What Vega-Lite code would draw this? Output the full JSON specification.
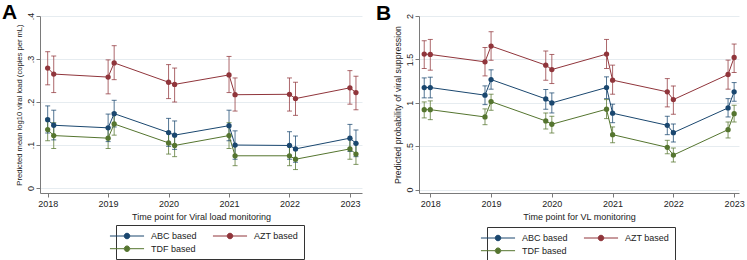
{
  "$schema": "https://vega.github.io/schema/vega-lite/v6.json",
  "padding": {"left": 2, "top": 1, "right": 0, "bottom": 0},
  "background": "white",
  "bounds": "flush",
  "spacing": 57,
  "config": {
    "view": {"stroke": null},
    "font": "Liberation Sans",
    "axis": {
      "labelFont": "Liberation Sans",
      "titleFont": "Liberation Sans",
      "labelFontSize": 9,
      "titleFontSize": 9,
      "titleFontWeight": "normal",
      "labelColor": "#222222",
      "titleColor": "#222222",
      "domainColor": "#7a7a7a",
      "tickColor": "#7a7a7a",
      "tickSize": 4,
      "labelFlush": false,
      "labelOverlap": false
    },
    "legend": {
      "labelFont": "Liberation Sans",
      "labelFontSize": 9,
      "labelColor": "#222222"
    }
  },
  "datasets": {
    "vl": [
      {"g": "ABC based", "t": 2018.0, "m": 0.159, "lo": 0.128, "hi": 0.191},
      {"g": "ABC based", "t": 2018.1, "m": 0.146, "lo": 0.112, "hi": 0.181},
      {"g": "ABC based", "t": 2019.0, "m": 0.140, "lo": 0.108, "hi": 0.172},
      {"g": "ABC based", "t": 2019.1, "m": 0.173, "lo": 0.142, "hi": 0.204},
      {"g": "ABC based", "t": 2020.0, "m": 0.129, "lo": 0.097, "hi": 0.162},
      {"g": "ABC based", "t": 2020.1, "m": 0.123, "lo": 0.090, "hi": 0.156},
      {"g": "ABC based", "t": 2021.0, "m": 0.145, "lo": 0.110, "hi": 0.181},
      {"g": "ABC based", "t": 2021.1, "m": 0.100, "lo": 0.067, "hi": 0.133},
      {"g": "ABC based", "t": 2022.0, "m": 0.099, "lo": 0.067, "hi": 0.131},
      {"g": "ABC based", "t": 2022.1, "m": 0.091, "lo": 0.060, "hi": 0.121},
      {"g": "ABC based", "t": 2023.0, "m": 0.116, "lo": 0.085, "hi": 0.148},
      {"g": "ABC based", "t": 2023.1, "m": 0.104, "lo": 0.073, "hi": 0.135},
      {"g": "AZT based", "t": 2018.0, "m": 0.279, "lo": 0.240, "hi": 0.317},
      {"g": "AZT based", "t": 2018.1, "m": 0.265, "lo": 0.222, "hi": 0.307},
      {"g": "AZT based", "t": 2019.0, "m": 0.258, "lo": 0.219, "hi": 0.298},
      {"g": "AZT based", "t": 2019.1, "m": 0.291, "lo": 0.252, "hi": 0.331},
      {"g": "AZT based", "t": 2020.0, "m": 0.246, "lo": 0.208, "hi": 0.287},
      {"g": "AZT based", "t": 2020.1, "m": 0.241, "lo": 0.200, "hi": 0.279},
      {"g": "AZT based", "t": 2021.0, "m": 0.263, "lo": 0.222, "hi": 0.306},
      {"g": "AZT based", "t": 2021.1, "m": 0.217, "lo": 0.179, "hi": 0.256},
      {"g": "AZT based", "t": 2022.0, "m": 0.218, "lo": 0.179, "hi": 0.256},
      {"g": "AZT based", "t": 2022.1, "m": 0.208, "lo": 0.169, "hi": 0.246},
      {"g": "AZT based", "t": 2023.0, "m": 0.233, "lo": 0.195, "hi": 0.273},
      {"g": "AZT based", "t": 2023.1, "m": 0.222, "lo": 0.182, "hi": 0.260},
      {"g": "TDF based", "t": 2018.0, "m": 0.136, "lo": 0.110, "hi": 0.162},
      {"g": "TDF based", "t": 2018.1, "m": 0.122, "lo": 0.092, "hi": 0.152},
      {"g": "TDF based", "t": 2019.0, "m": 0.116, "lo": 0.092, "hi": 0.140},
      {"g": "TDF based", "t": 2019.1, "m": 0.149, "lo": 0.123, "hi": 0.175},
      {"g": "TDF based", "t": 2020.0, "m": 0.105, "lo": 0.079, "hi": 0.131},
      {"g": "TDF based", "t": 2020.1, "m": 0.099, "lo": 0.073, "hi": 0.125},
      {"g": "TDF based", "t": 2021.0, "m": 0.122, "lo": 0.092, "hi": 0.152},
      {"g": "TDF based", "t": 2021.1, "m": 0.075, "lo": 0.052, "hi": 0.098},
      {"g": "TDF based", "t": 2022.0, "m": 0.075, "lo": 0.052, "hi": 0.098},
      {"g": "TDF based", "t": 2022.1, "m": 0.067, "lo": 0.043, "hi": 0.091},
      {"g": "TDF based", "t": 2023.0, "m": 0.091, "lo": 0.067, "hi": 0.115},
      {"g": "TDF based", "t": 2023.1, "m": 0.079, "lo": 0.055, "hi": 0.103}
    ],
    "vs": [
      {"g": "ABC based", "t": 2017.9, "m": 1.176, "lo": 1.057, "hi": 1.287},
      {"g": "ABC based", "t": 2018.0, "m": 1.176, "lo": 1.057, "hi": 1.295},
      {"g": "ABC based", "t": 2018.9, "m": 1.088, "lo": 0.979, "hi": 1.195},
      {"g": "ABC based", "t": 2019.0, "m": 1.268, "lo": 1.157, "hi": 1.380},
      {"g": "ABC based", "t": 2019.9, "m": 1.045, "lo": 0.926, "hi": 1.152},
      {"g": "ABC based", "t": 2020.0, "m": 0.999, "lo": 0.883, "hi": 1.114},
      {"g": "ABC based", "t": 2020.9, "m": 1.176, "lo": 1.048, "hi": 1.299},
      {"g": "ABC based", "t": 2021.0, "m": 0.880, "lo": 0.771, "hi": 0.984},
      {"g": "ABC based", "t": 2021.9, "m": 0.741, "lo": 0.633, "hi": 0.845},
      {"g": "ABC based", "t": 2022.0, "m": 0.656, "lo": 0.548, "hi": 0.756},
      {"g": "ABC based", "t": 2022.9, "m": 0.941, "lo": 0.837, "hi": 1.048},
      {"g": "ABC based", "t": 2023.0, "m": 1.126, "lo": 1.018, "hi": 1.233},
      {"g": "AZT based", "t": 2017.9, "m": 1.561, "lo": 1.395, "hi": 1.715},
      {"g": "AZT based", "t": 2018.0, "m": 1.557, "lo": 1.376, "hi": 1.730},
      {"g": "AZT based", "t": 2018.9, "m": 1.472, "lo": 1.310, "hi": 1.637},
      {"g": "AZT based", "t": 2019.0, "m": 1.654, "lo": 1.490, "hi": 1.819},
      {"g": "AZT based", "t": 2019.9, "m": 1.434, "lo": 1.261, "hi": 1.596},
      {"g": "AZT based", "t": 2020.0, "m": 1.383, "lo": 1.222, "hi": 1.557},
      {"g": "AZT based", "t": 2020.9, "m": 1.561, "lo": 1.395, "hi": 1.730},
      {"g": "AZT based", "t": 2021.0, "m": 1.261, "lo": 1.099, "hi": 1.434},
      {"g": "AZT based", "t": 2021.9, "m": 1.126, "lo": 0.953, "hi": 1.279},
      {"g": "AZT based", "t": 2022.0, "m": 1.037, "lo": 0.868, "hi": 1.195},
      {"g": "AZT based", "t": 2022.9, "m": 1.326, "lo": 1.157, "hi": 1.492},
      {"g": "AZT based", "t": 2023.0, "m": 1.522, "lo": 1.349, "hi": 1.677},
      {"g": "TDF based", "t": 2017.9, "m": 0.921, "lo": 0.826, "hi": 1.010},
      {"g": "TDF based", "t": 2018.0, "m": 0.921, "lo": 0.806, "hi": 1.022},
      {"g": "TDF based", "t": 2018.9, "m": 0.837, "lo": 0.748, "hi": 0.930},
      {"g": "TDF based", "t": 2019.0, "m": 1.014, "lo": 0.914, "hi": 1.099},
      {"g": "TDF based", "t": 2019.9, "m": 0.791, "lo": 0.699, "hi": 0.883},
      {"g": "TDF based", "t": 2020.0, "m": 0.753, "lo": 0.652, "hi": 0.845},
      {"g": "TDF based", "t": 2020.9, "m": 0.926, "lo": 0.818, "hi": 1.037},
      {"g": "TDF based", "t": 2021.0, "m": 0.633, "lo": 0.540, "hi": 0.722},
      {"g": "TDF based", "t": 2021.9, "m": 0.487, "lo": 0.413, "hi": 0.568},
      {"g": "TDF based", "t": 2022.0, "m": 0.398, "lo": 0.318, "hi": 0.479},
      {"g": "TDF based", "t": 2022.9, "m": 0.691, "lo": 0.595, "hi": 0.779},
      {"g": "TDF based", "t": 2023.0, "m": 0.875, "lo": 0.779, "hi": 0.972}
    ]
  },
  "resolve": {"legend": {"color": "independent"}},
  "hconcat": [
    {
      "width": 322,
      "height": 177,
      "title": {"text": "A", "anchor": "start", "frame": "group", "dx": -38, "offset": -27.5, "baseline": "alphabetic", "fontSize": 21, "fontWeight": "bold", "font": "Liberation Sans", "color": "black"},
      "data": {"name": "vl"},
      "encoding": {
        "x": {"field": "t", "type": "quantitative",
              "scale": {"domain": [2017.873, 2023.2], "nice": false, "zero": false},
              "axis": {"values": [2018, 2019, 2020, 2021, 2022, 2023], "format": "d", "grid": false,
                       "labelPadding": 2.5, "titlePadding": 3.5,
                       "title": "Time point for Viral load monitoring"}},
        "color": {"field": "g", "type": "nominal",
                  "scale": {"domain": ["ABC based", "AZT based", "TDF based"], "range": ["#1a476f", "#90353b", "#55752f"]},
                  "legend": {"title": null, "orient": "none", "legendX": 76, "legendY": 209,
                             "direction": "horizontal", "columns": 2,
                             "strokeColor": "#333333", "fillColor": "white", "padding": 5,
                             "symbolType": "M-3.1,0H-0.5M0.5,0H3.1M-0.5,0A0.5,0.5,0,1,0,0.5,0A0.5,0.5,0,1,0,-0.5,0Z",
                             "symbolSize": 121, "symbolStrokeWidth": 1,
                             "labelOffset": 18, "columnPadding": 13, "rowPadding": 1.7,
                             "encode": {"symbols": {"update": {"stroke": {"scale": "color", "field": "value"}, "fill": {"scale": "color", "field": "value"}}}}}}
      },
      "layer": [
        {
          "mark": {"type": "rule", "strokeWidth": 1, "opacity": 0.75},
          "encoding": {
            "y": {"field": "lo", "type": "quantitative",
                  "scale": {"domain": [-0.0115, 0.4], "nice": false, "zero": false},
                  "axis": {"values": [0, 0.1, 0.2, 0.3, 0.4], "grid": true, "gridColor": "#e6ecf0", "gridWidth": 1,
                           "labelExpr": "replace(toString(datum.value), '0.', '.')",
                           "labelAngle": -90, "labelAlign": "center", "labelBaseline": "bottom", "labelPadding": 1,
                           "titleFontSize": 7.6, "titlePadding": 3,
                           "title": "Predicted mean log10 viral load (copies per mL)"}},
            "y2": {"field": "hi"}
          }
        },
        {
          "mark": {"type": "tick", "orient": "horizontal", "size": 5, "thickness": 1, "opacity": 0.75},
          "encoding": {"y": {"field": "lo", "type": "quantitative"}}
        },
        {
          "mark": {"type": "tick", "orient": "horizontal", "size": 5, "thickness": 1, "opacity": 0.75},
          "encoding": {"y": {"field": "hi", "type": "quantitative"}}
        },
        {
          "mark": {"type": "line", "strokeWidth": 1},
          "encoding": {"y": {"field": "m", "type": "quantitative"}}
        },
        {
          "mark": {"type": "point", "filled": true, "size": 28, "opacity": 1},
          "encoding": {"y": {"field": "m", "type": "quantitative"}}
        }
      ]
    },
    {
      "width": 320,
      "height": 177,
      "title": {"text": "B", "anchor": "start", "frame": "group", "dx": -43, "offset": -27.5, "baseline": "alphabetic", "fontSize": 21, "fontWeight": "bold", "font": "Liberation Sans", "color": "black"},
      "data": {"name": "vs"},
      "encoding": {
        "x": {"field": "t", "type": "quantitative",
              "scale": {"domain": [2017.814, 2023.08], "nice": false, "zero": false},
              "axis": {"values": [2018, 2019, 2020, 2021, 2022, 2023], "format": "d", "grid": false,
                       "labelPadding": 2.5, "titlePadding": 3.5,
                       "title": "Time point for VL monitoring"}},
        "color": {"field": "g", "type": "nominal",
                  "scale": {"domain": ["ABC based", "AZT based", "TDF based"], "range": ["#1a476f", "#90353b", "#55752f"]},
                  "legend": {"title": null, "orient": "none", "legendX": 68, "legendY": 211,
                             "direction": "horizontal", "columns": 2,
                             "strokeColor": "#333333", "fillColor": "white", "padding": 5,
                             "symbolType": "M-3.1,0H-0.5M0.5,0H3.1M-0.5,0A0.5,0.5,0,1,0,0.5,0A0.5,0.5,0,1,0,-0.5,0Z",
                             "symbolSize": 121, "symbolStrokeWidth": 1,
                             "labelOffset": 18, "columnPadding": 13, "rowPadding": 1.7,
                             "encode": {"symbols": {"update": {"stroke": {"scale": "color", "field": "value"}, "fill": {"scale": "color", "field": "value"}}}}}}
      },
      "layer": [
        {
          "mark": {"type": "rule", "strokeWidth": 1, "opacity": 0.75},
          "encoding": {
            "y": {"field": "lo", "type": "quantitative",
                  "scale": {"domain": [-0.039, 2.0], "nice": false, "zero": false},
                  "axis": {"values": [0, 0.5, 1, 1.5, 2], "grid": true, "gridColor": "#e6ecf0", "gridWidth": 1,
                           "labelExpr": "datum.value == 0.5 ? '.5' : toString(datum.value)",
                           "labelAngle": -90, "labelAlign": "center", "labelBaseline": "bottom", "labelPadding": 1,
                           "titleFontSize": 8.8, "titlePadding": 3,
                           "title": "Predicted probability of viral suppression"}},
            "y2": {"field": "hi"}
          }
        },
        {
          "mark": {"type": "tick", "orient": "horizontal", "size": 5, "thickness": 1, "opacity": 0.75},
          "encoding": {"y": {"field": "lo", "type": "quantitative"}}
        },
        {
          "mark": {"type": "tick", "orient": "horizontal", "size": 5, "thickness": 1, "opacity": 0.75},
          "encoding": {"y": {"field": "hi", "type": "quantitative"}}
        },
        {
          "mark": {"type": "line", "strokeWidth": 1},
          "encoding": {"y": {"field": "m", "type": "quantitative"}}
        },
        {
          "mark": {"type": "point", "filled": true, "size": 28, "opacity": 1},
          "encoding": {"y": {"field": "m", "type": "quantitative"}}
        }
      ]
    }
  ]
}
